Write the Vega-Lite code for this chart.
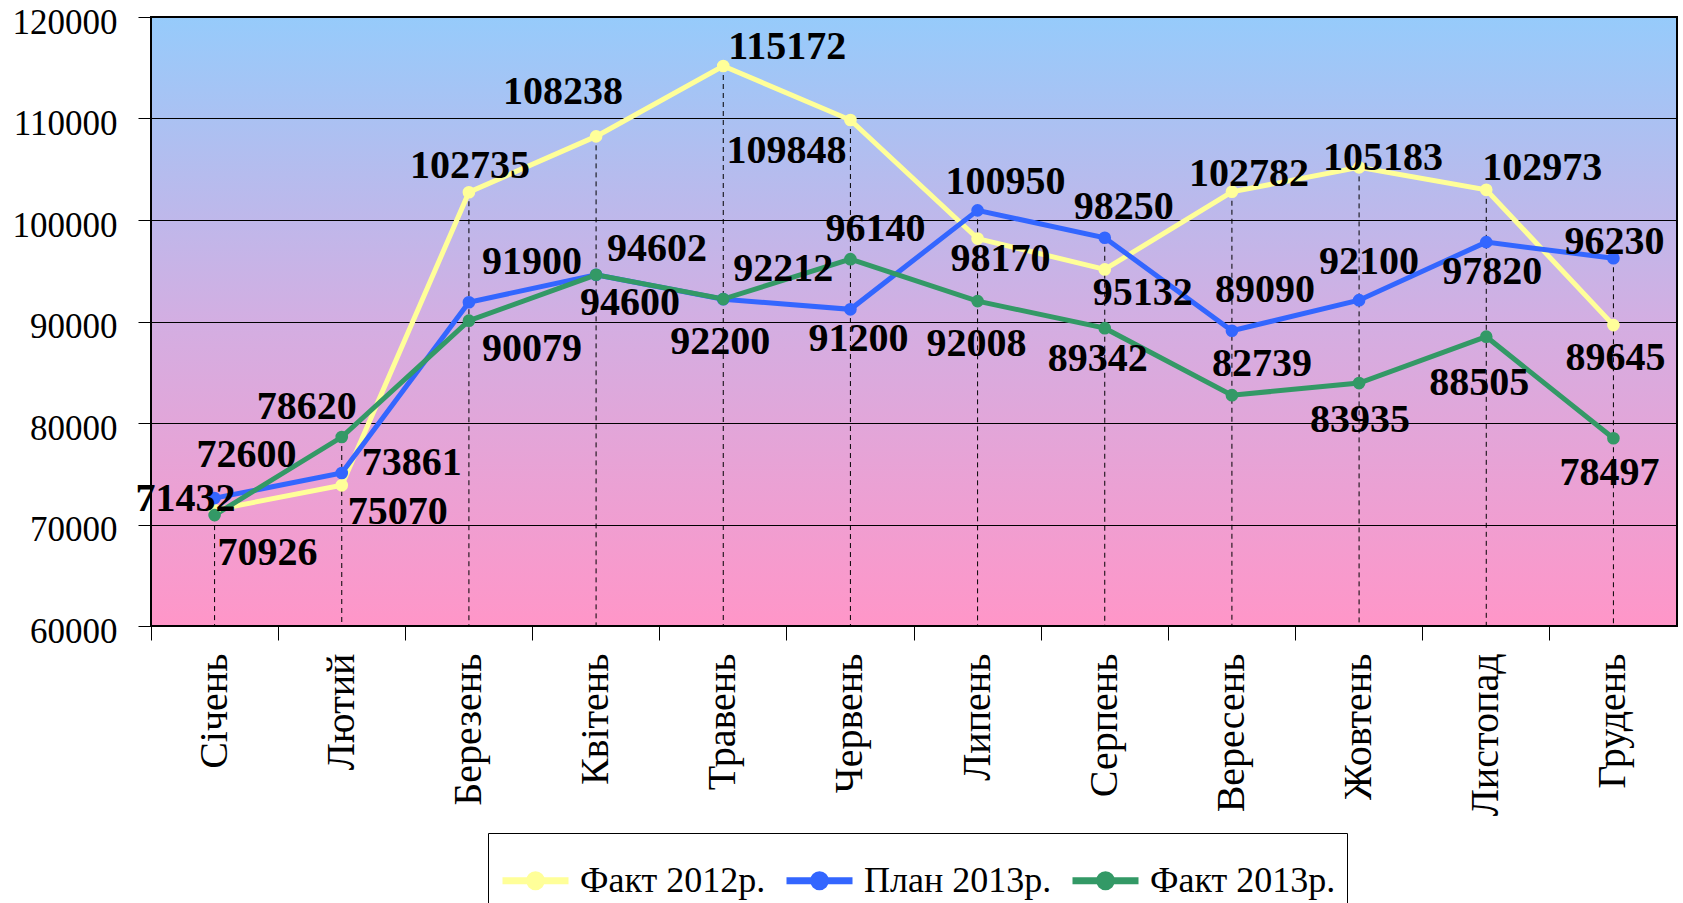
{
  "$schema": "https://vega.github.io/schema/vega-lite/v6.json",
  "autosize": "none",
  "width": 1526,
  "height": 609,
  "padding": {"left": 151, "top": 17, "right": 6, "bottom": 277},
  "background": "white",
  "config": {
    "view": {
      "stroke": "black",
      "strokeWidth": 2,
      "fill": {"gradient": "linear", "x1": 0, "y1": 0, "x2": 0, "y2": 1,
        "stops": [{"offset": 0, "color": "#96CBFB"}, {"offset": 0.5, "color": "#D3AEE2"}, {"offset": 1, "color": "#FF96C8"}]}
    },
    "text": {"font": "Liberation Serif", "fontSize": 40, "fontWeight": "bold", "fill": "black", "align": "center", "baseline": "middle"}
  },
  "data": {"values": [
    {"m": "Січень", "s": "Факт 2012р.", "v": 71432},
    {"m": "Лютий", "s": "Факт 2012р.", "v": 73861},
    {"m": "Березень", "s": "Факт 2012р.", "v": 102735},
    {"m": "Квітень", "s": "Факт 2012р.", "v": 108238},
    {"m": "Травень", "s": "Факт 2012р.", "v": 115172},
    {"m": "Червень", "s": "Факт 2012р.", "v": 109848},
    {"m": "Липень", "s": "Факт 2012р.", "v": 98170},
    {"m": "Серпень", "s": "Факт 2012р.", "v": 95132},
    {"m": "Вересень", "s": "Факт 2012р.", "v": 102782},
    {"m": "Жовтень", "s": "Факт 2012р.", "v": 105183},
    {"m": "Листопад", "s": "Факт 2012р.", "v": 102973},
    {"m": "Грудень", "s": "Факт 2012р.", "v": 89645},
    {"m": "Січень", "s": "План 2013р.", "v": 72600},
    {"m": "Лютий", "s": "План 2013р.", "v": 75070},
    {"m": "Березень", "s": "План 2013р.", "v": 91900},
    {"m": "Квітень", "s": "План 2013р.", "v": 94600},
    {"m": "Травень", "s": "План 2013р.", "v": 92200},
    {"m": "Червень", "s": "План 2013р.", "v": 91200},
    {"m": "Липень", "s": "План 2013р.", "v": 100950},
    {"m": "Серпень", "s": "План 2013р.", "v": 98250},
    {"m": "Вересень", "s": "План 2013р.", "v": 89090},
    {"m": "Жовтень", "s": "План 2013р.", "v": 92100},
    {"m": "Листопад", "s": "План 2013р.", "v": 97820},
    {"m": "Грудень", "s": "План 2013р.", "v": 96230},
    {"m": "Січень", "s": "Факт 2013р.", "v": 70926},
    {"m": "Лютий", "s": "Факт 2013р.", "v": 78620},
    {"m": "Березень", "s": "Факт 2013р.", "v": 90079},
    {"m": "Квітень", "s": "Факт 2013р.", "v": 94602},
    {"m": "Травень", "s": "Факт 2013р.", "v": 92212},
    {"m": "Червень", "s": "Факт 2013р.", "v": 96140},
    {"m": "Липень", "s": "Факт 2013р.", "v": 92008},
    {"m": "Серпень", "s": "Факт 2013р.", "v": 89342},
    {"m": "Вересень", "s": "Факт 2013р.", "v": 82739},
    {"m": "Жовтень", "s": "Факт 2013р.", "v": 83935},
    {"m": "Листопад", "s": "Факт 2013р.", "v": 88505},
    {"m": "Грудень", "s": "Факт 2013р.", "v": 78497}
  ]},
  "encoding": {
    "x": {
      "field": "m", "type": "nominal",
      "sort": ["Січень", "Лютий", "Березень", "Квітень", "Травень", "Червень", "Липень", "Серпень", "Вересень", "Жовтень", "Листопад", "Грудень"],
      "scale": {"type": "band", "paddingInner": 0, "paddingOuter": 0},
      "axis": {
        "title": null, "grid": false, "domain": false,
        "bandPosition": 0,
        "tickColor": "black", "tickSize": 14, "tickWidth": 1,
        "labelAngle": -90, "labelAlign": "right", "labelBaseline": "middle",
        "labelFont": "Liberation Serif", "labelFontSize": 40, "labelColor": "black", "labelPadding": 13
      }
    },
    "y": {
      "field": "v", "type": "quantitative",
      "scale": {"domain": [60000, 120000], "nice": false, "zero": false},
      "axis": {
        "title": null, "domain": false,
        "values": [60000, 70000, 80000, 90000, 100000, 110000, 120000],
        "format": "d",
        "grid": true, "gridColor": "black", "gridWidth": 1, "gridOpacity": 1,
        "tickColor": "black", "tickSize": 13, "tickWidth": 1,
        "labelFont": "Liberation Serif", "labelFontSize": 35, "labelColor": "black",
        "labelPadding": 21, "labelOffset": 5, "labelOverlap": false
      }
    }
  },
  "layer": [
    {
      "transform": [{"aggregate": [{"op": "max", "field": "v", "as": "v"}], "groupby": ["m"]}],
      "mark": {"type": "rule", "color": "black", "strokeWidth": 1, "strokeDash": [5, 4]},
      "encoding": {"y2": {"datum": 60000}}
    },
    {
      "mark": {"type": "line", "strokeWidth": 5},
      "encoding": {
        "color": {
          "field": "s", "type": "nominal",
          "scale": {"domain": ["Факт 2012р.", "План 2013р.", "Факт 2013р."], "range": ["#FFFF99", "#3366FF", "#339966"]},
          "legend": {
            "title": null, "orient": "none", "legendX": 337, "legendY": 816, "direction": "horizontal",
            "symbolType": "M-1,0L1,0M-0.18,0A0.18,0.18,0,1,1,0.18,0A0.18,0.18,0,1,1,-0.18,0Z",
            "symbolSize": 4356, "symbolStrokeWidth": 7,
            "labelFont": "Liberation Serif", "labelFontSize": 36, "labelColor": "black", "labelOffset": 8, "labelLimit": 400,
            "columnPadding": 6, "padding": 11, "strokeColor": "black", "fillColor": "white"
          }
        },
        "order": {"field": "s", "sort": "descending"}
      }
    },
    {
      "mark": {"type": "point", "filled": true, "size": 160, "opacity": 1},
      "encoding": {
        "color": {"field": "s", "type": "nominal"}
      }
    },
    {
      "encoding": {"text": {"field": "v", "type": "quantitative", "format": "d"}},
      "layer": [
        {"transform": [{"filter": "datum.v==71432"}], "mark": {"type": "text", "dx": -29, "dy": -11}},
        {"transform": [{"filter": "datum.v==73861"}], "mark": {"type": "text", "dx": 70, "dy": -22}},
        {"transform": [{"filter": "datum.v==102735"}], "mark": {"type": "text", "dx": 1, "dy": -26}},
        {"transform": [{"filter": "datum.v==108238"}], "mark": {"type": "text", "dx": -33, "dy": -44}},
        {"transform": [{"filter": "datum.v==115172"}], "mark": {"type": "text", "dx": 64, "dy": -19}},
        {"transform": [{"filter": "datum.v==109848"}], "mark": {"type": "text", "dx": -64, "dy": 31}},
        {"transform": [{"filter": "datum.v==98170"}], "mark": {"type": "text", "dx": 23, "dy": 20}},
        {"transform": [{"filter": "datum.v==95132"}], "mark": {"type": "text", "dx": 38, "dy": 24}},
        {"transform": [{"filter": "datum.v==102782"}], "mark": {"type": "text", "dx": 17, "dy": -18}},
        {"transform": [{"filter": "datum.v==105183"}], "mark": {"type": "text", "dx": 24, "dy": -9}},
        {"transform": [{"filter": "datum.v==102973"}], "mark": {"type": "text", "dx": 56, "dy": -22}},
        {"transform": [{"filter": "datum.v==89645"}], "mark": {"type": "text", "dx": 2, "dy": 33}},
        {"transform": [{"filter": "datum.v==72600"}], "mark": {"type": "text", "dx": 32, "dy": -43}},
        {"transform": [{"filter": "datum.v==75070"}], "mark": {"type": "text", "dx": 56, "dy": 39}},
        {"transform": [{"filter": "datum.v==91900"}], "mark": {"type": "text", "dx": 63, "dy": -40}},
        {"transform": [{"filter": "datum.v==94600"}], "mark": {"type": "text", "dx": 34, "dy": 28}},
        {"transform": [{"filter": "datum.v==92200"}], "mark": {"type": "text", "dx": -3, "dy": 43}},
        {"transform": [{"filter": "datum.v==91200"}], "mark": {"type": "text", "dx": 8, "dy": 30}},
        {"transform": [{"filter": "datum.v==100950"}], "mark": {"type": "text", "dx": 28, "dy": -28}},
        {"transform": [{"filter": "datum.v==98250"}], "mark": {"type": "text", "dx": 19, "dy": -31}},
        {"transform": [{"filter": "datum.v==89090"}], "mark": {"type": "text", "dx": 33, "dy": -41}},
        {"transform": [{"filter": "datum.v==92100"}], "mark": {"type": "text", "dx": 10, "dy": -38}},
        {"transform": [{"filter": "datum.v==97820"}], "mark": {"type": "text", "dx": 6, "dy": 30}},
        {"transform": [{"filter": "datum.v==96230"}], "mark": {"type": "text", "dx": 1, "dy": -16}},
        {"transform": [{"filter": "datum.v==70926"}], "mark": {"type": "text", "dx": 53, "dy": 38}},
        {"transform": [{"filter": "datum.v==78620"}], "mark": {"type": "text", "dx": -35, "dy": -30}},
        {"transform": [{"filter": "datum.v==90079"}], "mark": {"type": "text", "dx": 63, "dy": 28}},
        {"transform": [{"filter": "datum.v==94602"}], "mark": {"type": "text", "dx": 61, "dy": -26}},
        {"transform": [{"filter": "datum.v==92212"}], "mark": {"type": "text", "dx": 60, "dy": -30}},
        {"transform": [{"filter": "datum.v==96140"}], "mark": {"type": "text", "dx": 25, "dy": -30}},
        {"transform": [{"filter": "datum.v==92008"}], "mark": {"type": "text", "dx": -1, "dy": 43}},
        {"transform": [{"filter": "datum.v==89342"}], "mark": {"type": "text", "dx": -7, "dy": 31}},
        {"transform": [{"filter": "datum.v==82739"}], "mark": {"type": "text", "dx": 30, "dy": -31}},
        {"transform": [{"filter": "datum.v==83935"}], "mark": {"type": "text", "dx": 1, "dy": 37}},
        {"transform": [{"filter": "datum.v==88505"}], "mark": {"type": "text", "dx": -7, "dy": 46}},
        {"transform": [{"filter": "datum.v==78497"}], "mark": {"type": "text", "dx": -4, "dy": 35}}
      ]
    }
  ]
}
